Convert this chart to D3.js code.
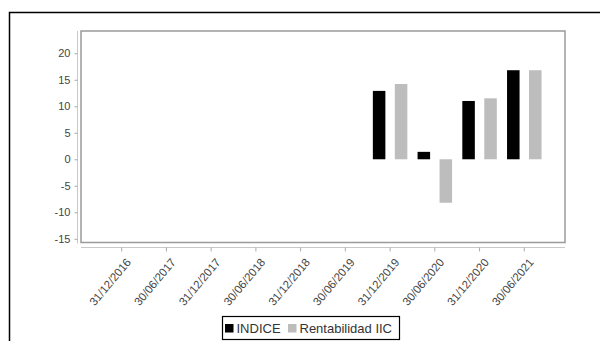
<!DOCTYPE html>
<html>
<head>
<meta charset="utf-8">
<script src="https://cdn.jsdelivr.net/npm/d3@7"></script>
<style>
  html, body { margin: 0; padding: 0; background: #fff; }
  svg { display: block; font-family: "Liberation Sans", Arial, sans-serif; }
</style>
</head>
<body>
<svg id="chart" width="600" height="341"></svg>
<script>
// Period end dates shown on the x axis
const categories = ["31/12/2016", "30/06/2017", "31/12/2017", "30/06/2018", "31/12/2018",
                    "30/06/2019", "31/12/2019", "30/06/2020", "31/12/2020", "30/06/2021"];
// Series names and colours
const seriesNames = ["INDICE", "Rentabilidad IIC"];
const seriesColors = ["#000000", "#bdbdbd"];
// Returns (%) per period; null where there is no value
const indiceValues = [null, null, null, null, null, null, 12.9, 1.4, 11.0, 16.8];
const rentabilidadValues = [null, null, null, null, null, null, 14.2, -8.2, 11.5, 16.8];
// Y axis tick labels
const yTicks = [-15, -10, -5, 0, 5, 10, 15, 20];

const svg = d3.select("#chart");

// Outer frame
svg.append("rect")
  .attr("x", 9.5).attr("y", 12.5)
  .attr("width", 600).attr("height", 340)
  .attr("fill", "none").attr("stroke", "#000").attr("stroke-width", 1.5);

const plot = { left: 81, right: 565, top: 31, bottom: 242.5 };

const y = d3.scaleLinear().domain([-15.7, 24.2]).range([plot.bottom, plot.top]);
const x = d3.scaleBand().domain(categories)
  .range([plot.left, plot.right]).paddingInner(0).paddingOuter(0.41);
const xSub = d3.scaleBand().domain(seriesNames)
  .range([-17.25, 17.25]).paddingInner(0.43).paddingOuter(0);

// Plot frame
svg.append("rect")
  .attr("x", plot.left).attr("y", plot.top)
  .attr("width", plot.right - plot.left).attr("height", plot.bottom - plot.top)
  .attr("fill", "#fff").attr("stroke", "#9a9a9a").attr("stroke-width", 1.5);

// Bars
const rows = categories.map((c, i) => ({
  cat: c,
  vals: [
    { name: seriesNames[0], v: indiceValues[i] },
    { name: seriesNames[1], v: rentabilidadValues[i] }
  ]
}));

const groups = svg.append("g").selectAll("g").data(rows).join("g")
  .attr("transform", d => `translate(${x(d.cat) + x.bandwidth() / 2},0)`);

groups.selectAll("rect").data(d => d.vals.filter(v => v.v !== null)).join("rect")
  .attr("x", d => xSub(d.name))
  .attr("width", xSub.bandwidth())
  .attr("y", d => y(Math.max(0, d.v)))
  .attr("height", d => Math.abs(y(d.v) - y(0)))
  .attr("fill", d => seriesColors[seriesNames.indexOf(d.name)]);

// Y axis (offset left of the frame)
const yAxis = svg.append("g")
  .attr("transform", "translate(77.5,0)")
  .call(d3.axisLeft(y).tickValues(yTicks).tickFormat(d => String(d))
    .tickSize(3).tickPadding(4).tickSizeOuter(0));
yAxis.select(".domain").attr("stroke", "#c8c8c8").attr("d", `M0,${plot.top}V${plot.bottom + 1}`);
yAxis.selectAll(".tick line").attr("stroke", "#aaa");
yAxis.selectAll("text").attr("fill", "#444").attr("font-size", 11)
  .attr("font-family", "Liberation Sans, Arial, sans-serif");

// X axis (offset below the frame)
const xAxis = svg.append("g")
  .attr("transform", "translate(0,247.5)")
  .call(d3.axisBottom(x).tickSize(4).tickSizeOuter(0));
xAxis.select(".domain").attr("stroke", "#c8c8c8").attr("d", `M${plot.left},0H${plot.right}`);
xAxis.selectAll(".tick line").attr("stroke", "#aaa");
xAxis.selectAll("text")
  .attr("fill", "#444").attr("font-size", 11.5)
  .attr("font-family", "Liberation Sans, Arial, sans-serif")
  .attr("text-anchor", "end")
  .attr("dy", null)
  .attr("y", null)
  .attr("transform", "translate(10,15) rotate(-50)");

// Legend
const legend = svg.append("g");
legend.append("rect")
  .attr("x", 222.5).attr("y", 316.5).attr("width", 177).attr("height", 23)
  .attr("fill", "#fff").attr("stroke", "#000").attr("stroke-width", 1.2);
const legendX = [225, 288];
seriesNames.forEach((name, i) => {
  legend.append("rect")
    .attr("x", legendX[i]).attr("y", 324).attr("width", 8.5).attr("height", 8.5)
    .attr("fill", seriesColors[i]);
  legend.append("text")
    .attr("x", legendX[i] + 11.5).attr("y", 333)
    .attr("font-size", 13).attr("fill", "#333")
    .text(name);
});
</script>
</body>
</html>
